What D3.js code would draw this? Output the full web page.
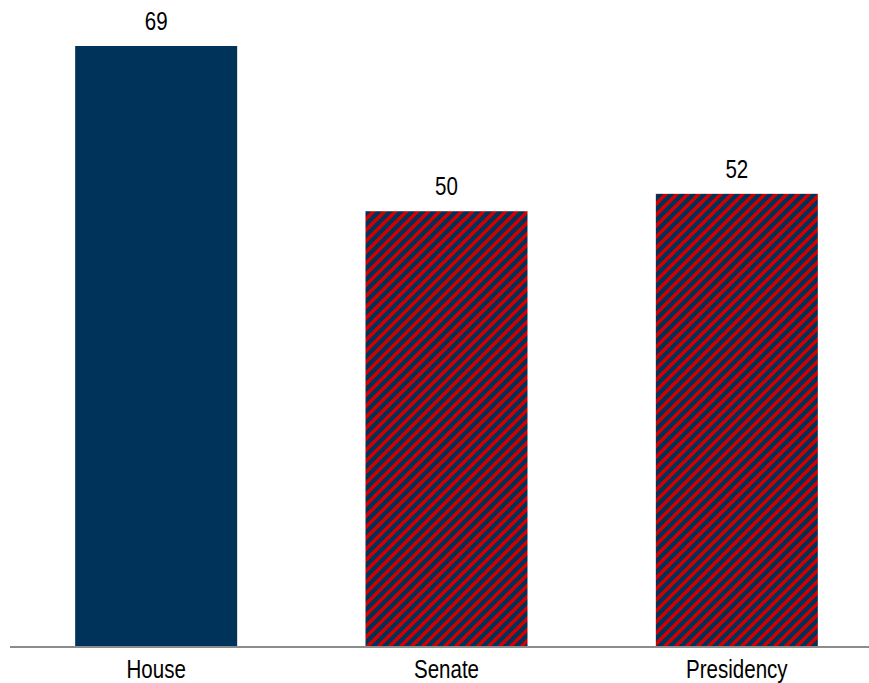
<!DOCTYPE html>
<html><head><meta charset="utf-8">
<script src="https://cdn.jsdelivr.net/npm/d3@7"></script>
<style>body{margin:0;background:#fff}</style>
</head><body><svg id="c" width="869" height="683"></svg>
<script>
const categories = ["House", "Senate", "Presidency"];
const values = [69, 50, 52];
const hatched = [false, true, true];

const svg = d3.select("#c");
const x = d3.scaleBand().domain(categories).range([11, 882]).paddingInner(0.442).paddingOuter(0.221);
const y = d3.scaleLinear().domain([0, 69]).range([646, 46]);
const FONT = "Liberation Sans, Arial, sans-serif";
const SX = 0.79, FS = 26;
const NAVY = "#003359", RED = "#d00000";

const defs = svg.append("defs");
const N = 11, RW = 5;
const pat = defs.append("pattern").attr("id", "hatch").attr("patternUnits", "userSpaceOnUse")
  .attr("width", N).attr("height", N);
pat.append("rect").attr("width", N).attr("height", N).attr("fill", NAVY);
const px = [];
for (let r = 0; r < N; r++) for (let k = 0; k < RW; k++) px.push([(N - 1 - r + k + N) % N, r]);
pat.selectAll("rect.p").data(px).join("rect").attr("class", "p")
  .attr("x", d => d[0]).attr("y", d => d[1]).attr("width", 1).attr("height", 1)
  .attr("fill", RED).attr("shape-rendering", "crispEdges");

svg.selectAll("rect.bar").data(categories).join("rect").attr("class", "bar")
  .attr("x", d => x(d)).attr("width", x.bandwidth())
  .attr("y", (d, i) => y(values[i])).attr("height", (d, i) => y(0) - y(values[i]))
  .attr("fill", (d, i) => hatched[i] ? "url(#hatch)" : NAVY);

svg.selectAll("text.val").data(categories).join("text").attr("class", "val")
  .attr("transform", (d, i) => `translate(${x(d) + x.bandwidth() / 2},${y(values[i]) - 16}) scale(${SX},1)`)
  .attr("text-anchor", "middle")
  .attr("font-family", FONT).attr("font-size", FS).attr("fill", "#000")
  .text((d, i) => values[i]);

const ax = svg.append("g").attr("transform", `translate(0,${y(0) + 1})`)
  .call(d3.axisBottom(x).tickSize(0).tickPadding(0));
ax.select(".domain").attr("d", "M10,0H869").attr("stroke", "#8c8c8c").attr("stroke-width", 2);
ax.selectAll(".tick text").attr("dy", null).attr("y", null)
  .attr("transform", `translate(0,31) scale(${SX},1)`)
  .attr("font-family", FONT).attr("font-size", FS).attr("fill", "#000");
</script></body></html>
